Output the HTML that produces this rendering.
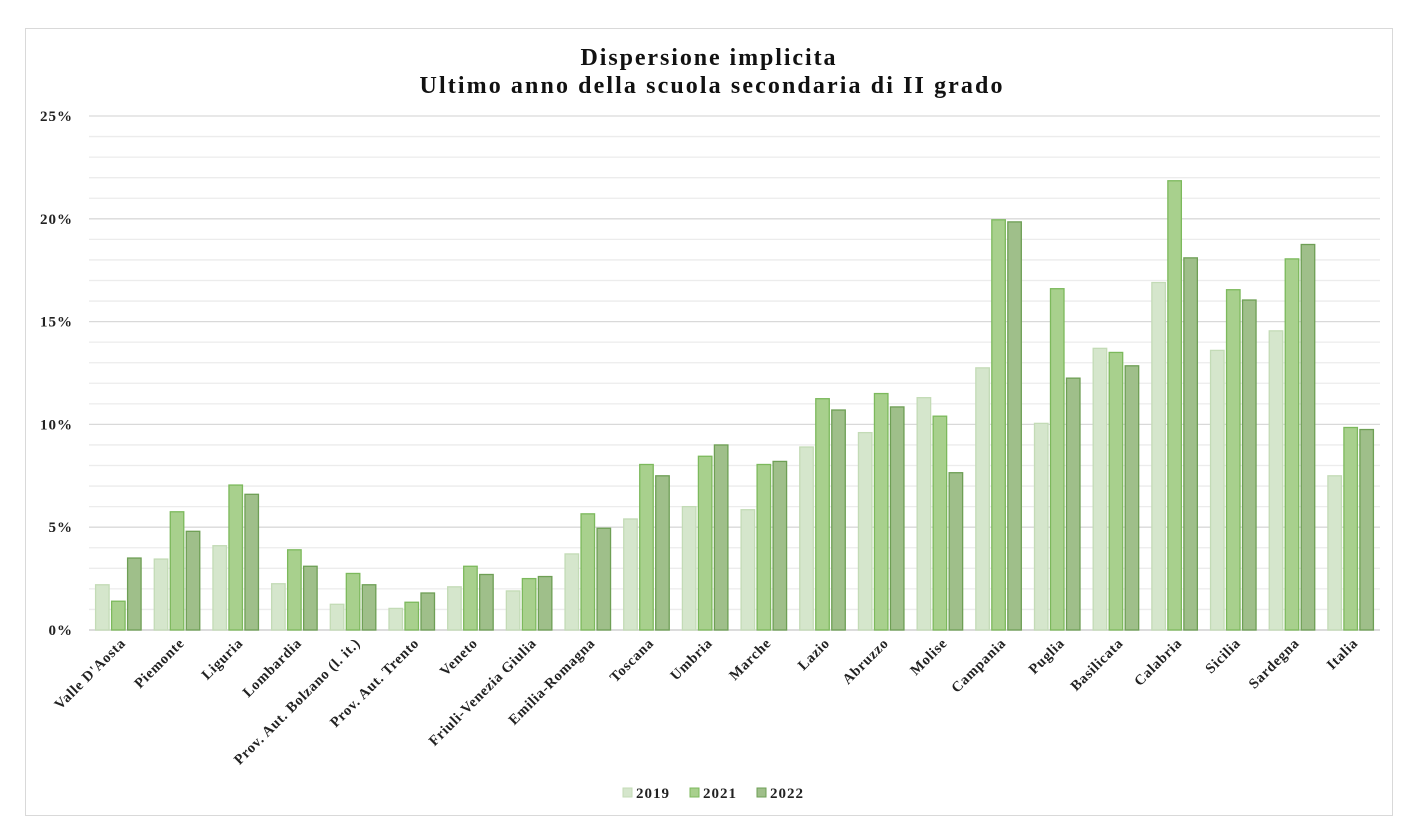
<!DOCTYPE html>
<html><head><meta charset="utf-8"><style>
body{margin:0;background:#fff;width:1417px;height:828px;overflow:hidden;}
svg{display:block;font-family:"Liberation Serif",serif;font-weight:bold;}
</style></head><body>
<svg id="chart" width="1417" height="828" xmlns="http://www.w3.org/2000/svg">
<rect x="25.5" y="28.5" width="1367" height="787" fill="#fff" stroke="#d9d9d9"/>
<text x="708" y="65" text-anchor="middle" font-size="24" fill="#111" textLength="255" lengthAdjust="spacing">Dispersione implicita</text>
<text x="711" y="93" text-anchor="middle" font-size="24" fill="#111" textLength="583" lengthAdjust="spacing">Ultimo anno della scuola secondaria di II grado</text>
<g id="grid"></g><g id="bars"></g><g id="xlabels"></g><g id="ylabels"></g>
<g>
<rect x="623" y="788" width="9" height="9" fill="#d5e6cc" stroke="#c3dbb6"/>
<text x="636" y="798" font-size="15" fill="#222" letter-spacing="1">2019</text>
<rect x="690" y="788" width="9" height="9" fill="#a8d08d" stroke="#7cb95c"/>
<text x="703" y="798" font-size="15" fill="#222" letter-spacing="1">2021</text>
<rect x="757" y="788" width="9" height="9" fill="#9fbf8a" stroke="#6e9f55"/>
<text x="770" y="798" font-size="15" fill="#222" letter-spacing="1">2022</text>
</g>
</svg>
<script>
const categories=["Valle D'Aosta","Piemonte","Liguria","Lombardia","Prov. Aut. Bolzano (l. it.)","Prov. Aut. Trento","Veneto","Friuli-Venezia Giulia","Emilia-Romagna","Toscana","Umbria","Marche","Lazio","Abruzzo","Molise","Campania","Puglia","Basilicata","Calabria","Sicilia","Sardegna","Italia"];
const s2019=[2.2,3.45,4.1,2.25,1.25,1.05,2.1,1.9,3.7,5.4,6.0,5.85,8.9,9.6,11.3,12.75,10.05,13.7,16.9,13.6,14.55,7.5];
const s2021=[1.4,5.75,7.05,3.9,2.75,1.35,3.1,2.5,5.65,8.05,8.45,8.05,11.25,11.5,10.4,19.95,16.6,13.5,21.85,16.55,18.05,9.85];
const s2022=[3.5,4.8,6.6,3.1,2.2,1.8,2.7,2.6,4.95,7.5,9.0,8.2,10.7,10.85,7.65,19.85,12.25,12.85,18.1,16.05,18.75,9.75];
const yTicks=[0,5,10,15,20,25];
const NS="http://www.w3.org/2000/svg";
const x0=89,x1=1380,y0=630,yTop=116,yMax=25;
const band=(x1-x0)/categories.length;
const y=v=>y0-(v/yMax)*(y0-yTop);
const xc=i=>x0+band*(i+0.5);
function mk(t,a,p){const e=document.createElementNS(NS,t);for(const k in a)e.setAttribute(k,a[k]);p.appendChild(e);return e;}
const grid=document.getElementById('grid');
for(let v=1;v<=yMax;v++){
  const l=mk('line',{x1:x0,x2:x1,y1:y(v),y2:y(v),stroke:v%5===0?'#d9d9d9':'#ececec','stroke-width':1.3},grid);
  
  
}
const ax=mk('line',{x1:x0,x2:x1,y1:y0,y2:y0,stroke:'#d0d0d0','stroke-width':1.5},grid);


const yl=document.getElementById('ylabels');
yTicks.forEach(v=>{
  const t=mk('text',{x:73,y:y(v)+5,'text-anchor':'end','font-size':15,fill:'#222','letter-spacing':1},yl);
  t.textContent=v+'%';
  
  
});
const series=[[s2019,'#d5e6cc','#c3dbb6','2019'],[s2021,'#a8d08d','#7cb95c','2021'],[s2022,'#9fbf8a','#6e9f55','2022']];
const bars=document.getElementById('bars');
const bw=13.5,gap=2.5;
categories.forEach((c,i)=>{
  series.forEach((s,j)=>{
    const bx=xc(i)+(j-1)*(bw+gap)-bw/2;
    const r=mk('rect',{x:bx,y:y(s[0][i]),width:bw,height:y0-y(s[0][i]),fill:s[1],stroke:s[2],'stroke-width':1.3},bars);
    
    
  });
  const t=mk('text',{x:xc(i)+8,y:644,'text-anchor':'end','font-size':14.5,'letter-spacing':0.7,fill:'#222',transform:`rotate(-45 ${xc(i)+8} 644)`},document.getElementById('xlabels'));
  t.textContent=c;
  
  
});
</script>
</body></html>
